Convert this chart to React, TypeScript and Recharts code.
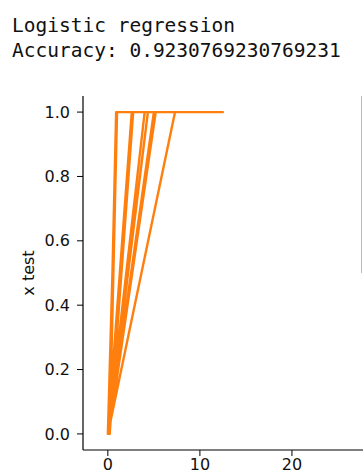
import { LineChart, Line, XAxis, YAxis } from "recharts";

// predicted label (x) vs x test (y), drawn in the order the points were plotted
const predX = [
  0, 1.0, 12.5, 1.0, 0.1, 0.9, 0.2, 1.0, 0, 2.6, 0.05, 2.75, 0.2, 2.7, 0, 4.0, 0, 4.35, 0.05, 5.0, 0.1, 5.2, 0, 7.3, 0,
];
const xTest = [
  0, 1, 1, 1, 0, 1, 0, 1, 0, 1, 0, 1, 0, 1, 0, 1, 0, 1, 0, 1, 0, 1, 0, 1, 0,
];

const xTicks = [0, 10, 20];
const yTicks = [0, 0.2, 0.4, 0.6, 0.8, 1.0];

const titleLines = ["Logistic regression", "Accuracy: 0.9230769230769231"];

const data = predX.map((x, i) => ({ x, y: xTest[i] }));

const ORANGE = "#ff7f0e";
const tickStyle = { fill: "#111", fontSize: 16, fontFamily: "DejaVu Sans, sans-serif" };

function YLabel(props: any) {
  const vb = props.viewBox || { x: 0, y: 0, width: 0, height: 0 };
  const cx = vb.x + 28;
  const cy = vb.y + vb.height / 2;
  return (
    <text
      x={cx}
      y={cy}
      transform={`rotate(-90 ${cx} ${cy})`}
      textAnchor="middle"
      dominantBaseline="central"
      fill="#111"
      fontSize={16}
      fontFamily="DejaVu Sans, sans-serif"
    >
      x test
    </text>
  );
}

export default function App() {
  return (
    <div
      style={{
        position: "absolute",
        top: 0,
        left: 0,
        width: 363,
        height: 475,
        overflow: "hidden",
        background: "#fff",
      }}
    >
      <div
        style={{
          position: "absolute",
          top: 13,
          left: 12,
          fontFamily: "DejaVu Sans Mono, monospace",
          fontSize: 19.5,
          lineHeight: "25px",
          color: "#111",
          whiteSpace: "pre",
        }}
      >
        {titleLines.map((t) => (
          <div key={t}>{t}</div>
        ))}
      </div>

      <div
        style={{
          position: "absolute",
          left: 361,
          top: 96,
          width: 1,
          height: 177,
          background: "#bbb",
        }}
      />

      <div style={{ position: "absolute", top: 0, left: 0 }}>
        <LineChart width={400} height={475} data={data} margin={{ top: 96, right: 16, bottom: 0, left: 0 }}>
          <XAxis
            xAxisId="top"
            orientation="top"
            type="number"
            dataKey="x"
            domain={[-2.7, 30]}
            height={0}
            tick={false}
            tickLine={false}
            axisLine={{ stroke: "#000", strokeWidth: 1.2 }}
            allowDataOverflow
          />
          <XAxis
            type="number"
            dataKey="x"
            domain={[-2.7, 30]}
            ticks={xTicks}
            height={25}
            tickSize={6}
            tickMargin={3}
            tick={tickStyle}
            tickLine={{ stroke: "#000" }}
            axisLine={{ stroke: "#000", strokeWidth: 1.2 }}
            allowDataOverflow
          />
          <YAxis
            type="number"
            domain={[-0.05, 1.05]}
            ticks={yTicks}
            width={83}
            tickSize={6}
            tickMargin={7}
            tick={tickStyle}
            tickFormatter={(v: number) => v.toFixed(1)}
            tickLine={{ stroke: "#000" }}
            axisLine={{ stroke: "#000", strokeWidth: 1.2 }}
            label={{ content: YLabel }}
            allowDataOverflow
          />
          <Line
            type="linear"
            dataKey="y"
            stroke={ORANGE}
            strokeWidth={2.4}
            strokeLinejoin="round"
            dot={false}
            activeDot={false}
            isAnimationActive={false}
          />
        </LineChart>
      </div>
    </div>
  );
}
